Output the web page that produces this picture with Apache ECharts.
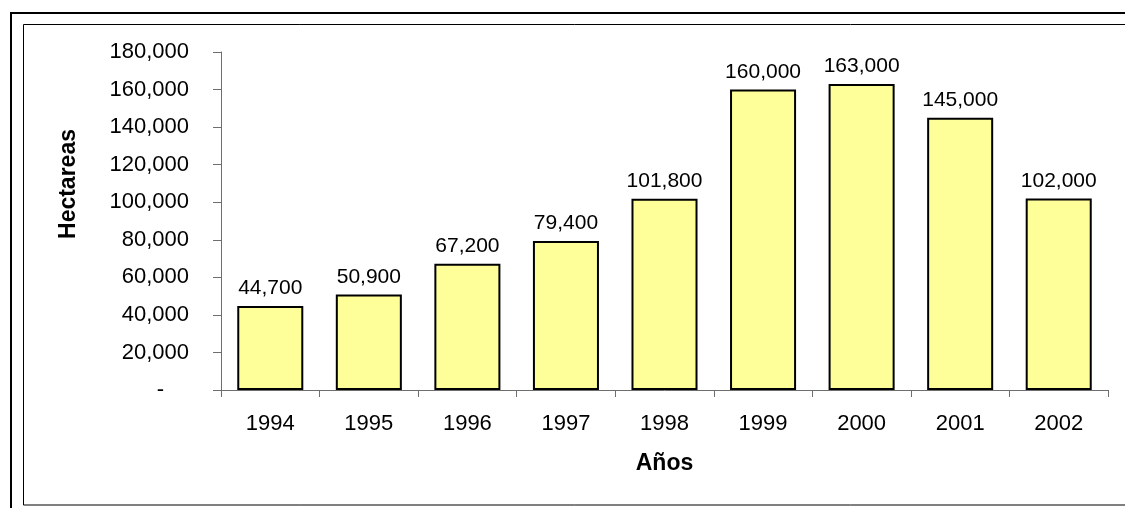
<!DOCTYPE html>
<html>
<head>
<meta charset="utf-8">
<script src="https://cdn.jsdelivr.net/npm/echarts@6/dist/echarts.min.js"></script>
<style>
  html, body { margin: 0; padding: 0; background: #fff; }
  #chart { width: 1125px; height: 508px; }
</style>
</head>
<body>
<div id="chart"></div>
<script>
// Superficie (hectáreas) por año
const years = ['1994', '1995', '1996', '1997', '1998', '1999', '2000', '2001', '2002'];
const hectareas = [44700, 50900, 67200, 79400, 101800, 160000, 163000, 145000, 102000];
const yAxisTitle = 'Hectareas';
const xAxisTitle = 'Años';

const FONT = '"Liberation Sans", Arial, sans-serif';
const fmt = v => Number(v).toLocaleString('en-US');

const chart = echarts.init(document.getElementById('chart'), null, { renderer: 'canvas' });

chart.setOption({
  animation: false,
  backgroundColor: '#ffffff',
  grid: { left: 221, top: 52, right: 17, bottom: 118, containLabel: false },
  xAxis: {
    type: 'category',
    data: years,
    name: xAxisTitle,
    nameLocation: 'middle',
    nameGap: 62,
    nameTextStyle: { fontFamily: FONT, fontSize: 23, fontWeight: 'bold', color: '#000' },
    axisLine: { lineStyle: { color: '#6e6e6e', width: 1 } },
    axisTick: { show: true, length: 7, lineStyle: { color: '#6e6e6e' } },
    axisLabel: { fontFamily: FONT, fontSize: 22, color: '#000', margin: 23 }
  },
  yAxis: {
    type: 'value',
    min: 0,
    max: 180000,
    interval: 20000,
    splitLine: { show: false },
    axisLine: { show: true, lineStyle: { color: '#6e6e6e', width: 1 } },
    axisTick: { show: true, length: 8, lineStyle: { color: '#6e6e6e' } },
    axisLabel: {
      fontFamily: FONT, fontSize: 22, color: '#000', margin: 32,
      formatter: v => v === 0 ? '{z|-}' : fmt(v),
      rich: { z: { fontFamily: FONT, fontSize: 22, color: '#000', padding: [0, 25, 0, 0] } }
    }
  },
  series: [{
    type: 'bar',
    data: hectareas,
    barCategoryGap: '33%',
    itemStyle: { color: '#ffff99', borderColor: '#000', borderWidth: 2 },
    label: {
      show: true, position: 'top', distance: 7,
      fontFamily: FONT, fontSize: 21, color: '#000',
      formatter: p => fmt(p.value)
    }
  }],
  graphic: [
    {
      type: 'rect', silent: true, z: 100,
      shape: { x: 11, y: 13, width: 1200, height: 600 },
      style: { fill: 'none', stroke: '#000', lineWidth: 2 }
    },
    {
      type: 'rect', silent: true, z: 100,
      shape: { x: 23.5, y: 24.5, width: 1200, height: 480.5 },
      style: { fill: 'none', stroke: '#000', lineWidth: 1 }
    },
    {
      type: 'text', silent: true,
      x: 69, y: 184, rotation: Math.PI / 2,
      style: {
        text: yAxisTitle, fontFamily: FONT, fontSize: 23, fontWeight: 'bold',
        fill: '#000', align: 'center', verticalAlign: 'middle'
      }
    }
  ]
});
</script>
</body>
</html>
